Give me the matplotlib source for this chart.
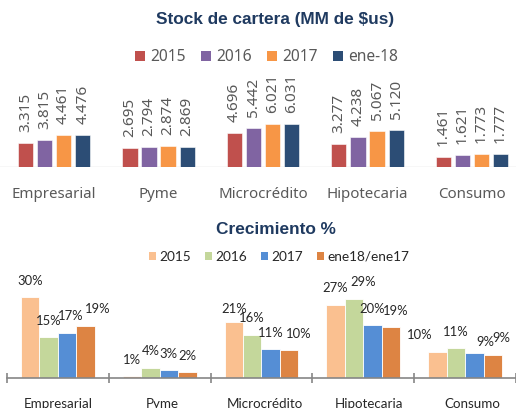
import matplotlib
matplotlib.use("Agg")
import matplotlib.pyplot as plt
from matplotlib.patches import Patch

# ---------------- data ----------------
categories = ["Empresarial", "Pyme", "Microcrédito", "Hipotecaria", "Consumo"]

stock_series = ["2015", "2016", "2017", "ene-18"]
stock_2015 = [3.315, 2.695, 4.696, 3.277, 1.461]
stock_2016 = [3.815, 2.794, 5.442, 4.238, 1.621]
stock_2017 = [4.461, 2.874, 6.021, 5.067, 1.773]
stock_ene18 = [4.476, 2.869, 6.031, 5.120, 1.777]

growth_series = ["2015", "2016", "2017", "ene18/ene17"]
growth_2015 = [30.0, 0.6, 21.0, 27.3, 9.6]
growth_2016 = [15.1, 3.7, 15.9, 29.3, 11.0]
growth_2017 = [16.9, 2.9, 10.6, 19.6, 9.4]
growth_ene = [19.4, 2.3, 10.4, 19.1, 8.6]

# ---------------- style ----------------
stock_colors = ["#C0504D", "#8064A2", "#F79646", "#2C4D75"]
growth_colors = ["#FAC090", "#C4D79B", "#558ED5", "#DD8443"]
title_color = "#1F3A60"
gray_text = "#595959"
dark_text = "#262626"

# label offsets for growth chart (dx px, dy px above bar top)
growth_label_offsets = [
    [(0, 16.7), (0, 16.6), (3.4, 16.7), (11.8, 16.7)],
    [(0, 16.0), (0, 16.7), (0, 16.0), (0, 16.0)],
    [(0, 12.4), (0, 17.0), (0, 16.4), (9.6, 16.0)],
    [(0, 16.4), (9.6, 17.0), (0, 16.0), (5.0, 16.0)],
    [(-18, 16.7), (0, 16.3), (11, 10.3), (9.0, 17.3)],
]

W, H = 516, 408
DPI = 100
fig = plt.figure(figsize=(W / DPI, H / DPI), dpi=DPI)
fig.patch.set_facecolor("white")

def pt(px):
    return px * 72.0 / DPI

def fx(px):
    return px / W

def fy(py):
    return 1 - py / H

# ================= TOP CHART =================
top_font = "Noto Sans"
t_pitch = 104.5
t_c0 = 54.0
t_base = 167.0
t_scale = 7.14
t_height = 110.0
ax1 = fig.add_axes([0, fy(t_base), 1, t_height / H])
ax1.set_xlim((0 - t_c0) / t_pitch, (W - t_c0) / t_pitch)
ax1.set_ylim(0, t_height / t_scale)
ax1.axis("off")
ax1.axhline(0, color="#D9D9D9", lw=1.0, zorder=1)

bw = 15.3 / t_pitch
bp = 19.1 / t_pitch
stock_data = [stock_2015, stock_2016, stock_2017, stock_ene18]
x_idx = list(range(len(categories)))
for si, (vals, col) in enumerate(zip(stock_data, stock_colors)):
    xs = [x + (si - 1.5) * bp for x in x_idx]
    ax1.bar(xs, vals, width=bw, color=col, edgecolor="white", linewidth=0.4, zorder=2)
    for x, v in zip(xs, vals):
        ax1.annotate(f"{v:.3f}", (x, v), xytext=(0, pt(11)), textcoords="offset points",
                     rotation=90, ha="center", va="bottom", fontsize=11.0,
                     family=top_font, color=gray_text, annotation_clip=False)

for x, c in zip(x_idx, categories):
    fig.text(fx(t_c0 + x * t_pitch), fy(197.7), c, ha="center", va="baseline",
             fontsize=10.8, family=top_font, color=gray_text)

fig.text(fx(275.5), fy(24.0), "Stock de cartera (MM de $us)", ha="center", va="baseline",
         fontsize=12.4, fontweight="bold", family="Liberation Sans", color=title_color)

h1 = [Patch(facecolor=c, edgecolor="none") for c in stock_colors]
leg1 = fig.legend(h1, stock_series, loc="center", bbox_to_anchor=(fx(266.5), fy(57.3)),
                  ncol=4, frameon=False, prop={"family": top_font, "size": 11.2},
                  handlelength=0.65, handleheight=0.65, handletextpad=0.3,
                  columnspacing=1.0, borderpad=0, borderaxespad=0)
for t in leg1.get_texts():
    t.set_color(gray_text)

# ================= BOTTOM CHART =================
bot_font = "Lato"
b_pitch = 103.3
b_c0 = 58.7
b_base = 378.0
b_scale = 2.69
b_height = 100.0
ax2 = fig.add_axes([0, fy(b_base), 1, b_height / H])
ax2.set_xlim((0 - b_c0) / b_pitch, (W - b_c0) / b_pitch)
ax2.set_ylim(0, b_height / b_scale)
for s in ["top", "right", "left"]:
    ax2.spines[s].set_visible(False)
ax2.spines["bottom"].set_color("#868686")
ax2.spines["bottom"].set_linewidth(1.2)
ax2.spines["bottom"].set_bounds(-0.5, len(categories) - 0.5)
ax2.set_yticks([])
ax2.set_xticks([i - 0.5 for i in range(len(categories) + 1)])
ax2.set_xticklabels([])
ax2.tick_params(axis="x", direction="inout", length=7, width=1.2, color="#868686")
ax2.patch.set_alpha(0)

gw = 18.75 / b_pitch
growth_data = [growth_2015, growth_2016, growth_2017, growth_ene]
for si, (vals, col) in enumerate(zip(growth_data, growth_colors)):
    xs = [x + (si - 1.5) * gw for x in x_idx]
    ax2.bar(xs, vals, width=gw, color=col, edgecolor="white", linewidth=0.6, zorder=2)
    for ci, (x, v) in enumerate(zip(xs, vals)):
        dx, dy = growth_label_offsets[ci][si]
        ax2.annotate(f"{v:.0f}%", (x, v), xytext=(pt(dx), pt(dy)), textcoords="offset points",
                     ha="center", va="center", fontsize=9.4, family=bot_font,
                     color=dark_text, annotation_clip=False)

for x, c in zip(x_idx, categories):
    fig.text(fx(b_c0 + x * b_pitch), fy(407.5), c, ha="center", va="baseline",
             fontsize=9.6, family=bot_font, color=dark_text)

fig.text(fx(275.5), fy(234.3), "Crecimiento %", ha="center", va="baseline",
         fontsize=12.4, fontweight="bold", family="Liberation Sans", color=title_color)

h2 = [Patch(facecolor=c, edgecolor="none") for c in growth_colors]
leg2 = fig.legend(h2, growth_series, loc="center", bbox_to_anchor=(fx(279), fy(256.7)),
                  ncol=4, frameon=False, prop={"family": bot_font, "size": 9.8},
                  handlelength=0.53, handleheight=0.53, handletextpad=0.25,
                  columnspacing=1.0, borderpad=0, borderaxespad=0)
for t in leg2.get_texts():
    t.set_color(dark_text)

fig.savefig("out.png", dpi=DPI, facecolor="white")
